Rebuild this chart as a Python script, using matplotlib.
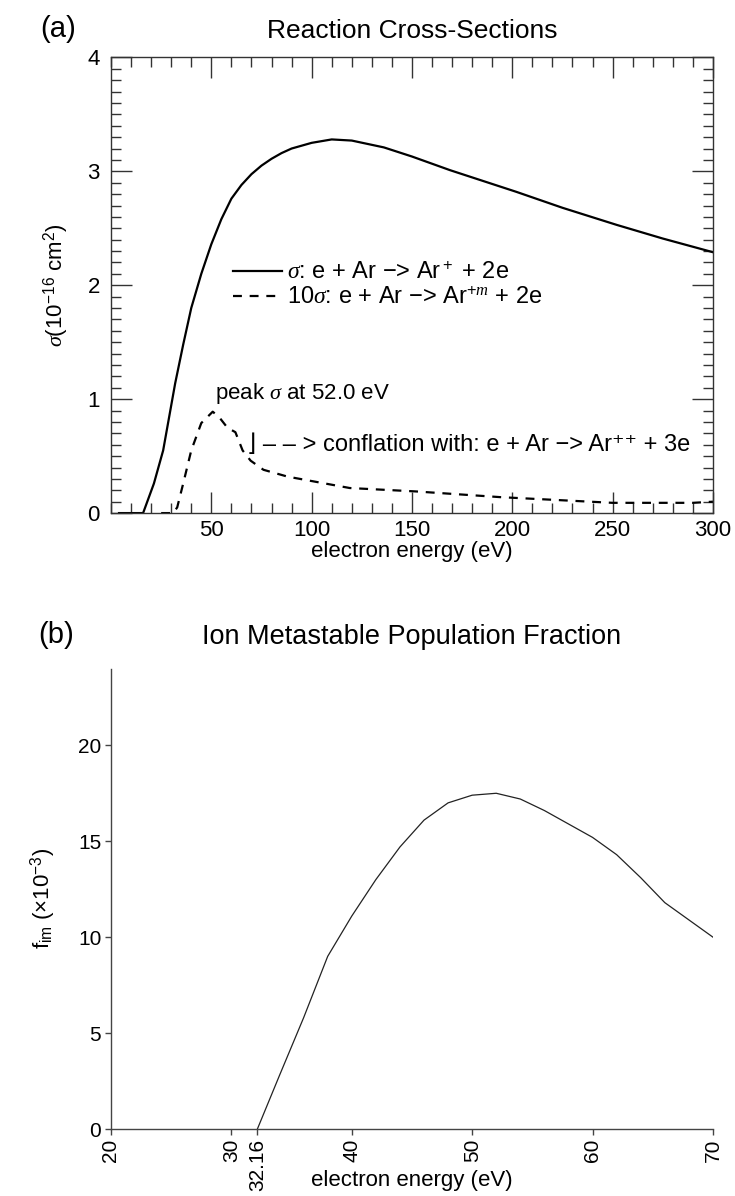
import matplotlib
matplotlib.use("Agg")
import matplotlib.pyplot as plt
from matplotlib.ticker import MultipleLocator

plt.rcParams["font.family"] = ["Liberation Sans", "DejaVu Sans"]
plt.rcParams["mathtext.fontset"] = "custom"
plt.rcParams["mathtext.rm"] = "Liberation Sans"
plt.rcParams["mathtext.it"] = "Liberation Serif:italic"

# (a) ionization cross-section, 1e-16 cm^2
ion_energy = [4, 16, 21.4, 26, 32, 36, 40, 45, 50, 55, 60, 65, 70, 75, 80, 85,
              90, 100, 110, 120, 136, 150, 169, 202, 225, 252, 275, 300]
ion_sigma = [0, 0, 0.26, 0.55, 1.14, 1.48, 1.80, 2.10, 2.36, 2.58, 2.76, 2.88,
             2.975, 3.05, 3.11, 3.16, 3.20, 3.25, 3.28, 3.27, 3.21, 3.13, 3.01,
             2.82, 2.68, 2.53, 2.41, 2.29]

# (a) metastable ion cross-section x10
meta_energy = [25, 31, 33, 36, 40, 45, 50.7, 54, 58, 62, 65.6, 69.6, 76, 88,
               119, 152, 194, 250, 290, 300]
meta_sigma = [0, 0, 0.05, 0.26, 0.55, 0.79, 0.89, 0.84, 0.75, 0.71, 0.55, 0.46,
              0.38, 0.32, 0.22, 0.19, 0.14, 0.09, 0.09, 0.10]

# (b) ion metastable population fraction, x1e-3
frac_energy = [32.16, 34, 36, 38, 40, 42, 44, 46, 48, 50, 52, 54, 56, 58, 60,
               62, 64, 66, 68, 70]
frac_value = [0, 2.8, 5.8, 9.0, 11.1, 13.0, 14.7, 16.1, 17.0, 17.4, 17.5, 17.2,
              16.6, 15.9, 15.2, 14.3, 13.1, 11.8, 10.9, 10.0]

b_ticks = [20, 30, 32.16, 40, 50, 60, 70]
b_ticklabels = ["20", "30", "32.16", "40", "50", "60", "70"]

fig = plt.figure(figsize=(7.35, 11.96), dpi=100)

# ---- panel (a)
ax = fig.add_axes([0.151, 0.571, 0.819, 0.381])
ax.plot(ion_energy, ion_sigma, color="black", lw=1.6,
        label=r"$\sigma$: e + Ar $-$> Ar$^+$ + 2e")
ax.plot(meta_energy, meta_sigma, color="black", lw=1.6, dashes=(4, 3.5),
        label=r"10$\sigma$: e + Ar $-$> Ar$^{+m}$ + 2e")
ax.set_xlim(0, 300)
ax.set_ylim(0, 4)
ax.xaxis.set_minor_locator(MultipleLocator(10))
ax.yaxis.set_major_locator(MultipleLocator(1))
ax.yaxis.set_minor_locator(MultipleLocator(0.1))
ax.set_xticks([50, 100, 150, 200, 250, 300])
ax.tick_params(which="both", direction="in", top=True, right=True,
               colors="#333333", labelcolor="black", labelsize=16)
ax.tick_params(which="major", length=15, width=1.0, pad=5)
ax.tick_params(which="minor", length=7.5, width=1.0)
ax.tick_params(axis="y", which="major", pad=8)
for s in ax.spines.values():
    s.set_color("#333333")
    s.set_linewidth(1.0)
ax.set_xlabel("electron energy (eV)", fontsize=16, labelpad=0)
ax.set_ylabel(r"$\sigma$(10$^{-16}$ cm$^2$)", fontsize=16, labelpad=12)
ax.set_title("Reaction Cross-Sections", fontsize=19, pad=14)
ax.text(-0.118, 1.062, "(a)", transform=ax.transAxes, fontsize=21,
        va="center", ha="left")
ax.legend(loc="upper left", bbox_to_anchor=(0.202, 0.55), frameon=False,
          fontsize=17, handlelength=2.1, handletextpad=0.2, borderpad=0,
          borderaxespad=0, labelspacing=0.1)
ax.text(52, 0.94, r"peak $\sigma$ at 52.0 eV", fontsize=16, va="bottom")
ax.text(68, 0.6, "⌋ – – > conflation with: e + Ar −> Ar⁺⁺ + 3e", fontsize=17,
        va="center")

# ---- panel (b)
bx = fig.add_axes([0.151, 0.056, 0.819, 0.385])
bx.plot(frac_energy, frac_value, color="#222222", lw=0.9)
bx.set_xlim(20, 70)
bx.set_ylim(0, 24)
bx.set_xticks(b_ticks)
bx.set_xticklabels(b_ticklabels, rotation=90)
bx.set_yticks([0, 5, 10, 15, 20])
bx.spines["top"].set_visible(False)
bx.spines["right"].set_visible(False)
for s in ("left", "bottom"):
    bx.spines[s].set_color("#444444")
    bx.spines[s].set_linewidth(1.0)
bx.tick_params(direction="out", length=4, width=1.0, colors="#444444",
               labelcolor="black", labelsize=15, pad=3)
bx.set_xlabel("electron energy (eV)", fontsize=16)
bx.xaxis.set_label_coords(0.5, -0.088)
bx.set_ylabel(r"f$_{\rm im}$ (×10$^{-3}$)", fontsize=16, labelpad=14)
bx.set_title("Ion Metastable Population Fraction", fontsize=19.5, pad=18)
bx.text(-0.12, 1.072, "(b)", transform=bx.transAxes, fontsize=21,
        va="center", ha="left")

fig.savefig("out.png", dpi=100)
